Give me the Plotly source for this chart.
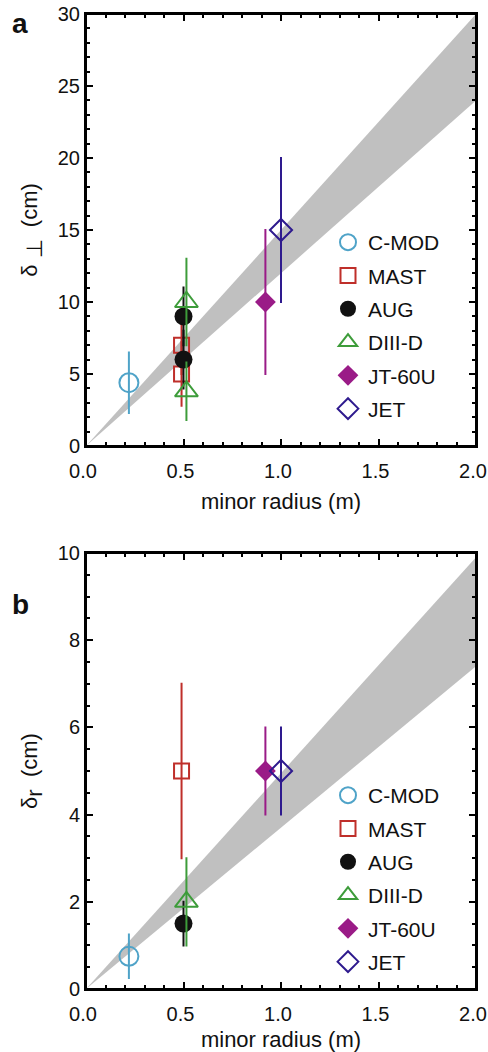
import plotly.graph_objects as go

machines = ["C-MOD", "MAST", "AUG", "DIII-D", "JT-60U", "JET"]
colors = ["#4fa3c8", "#bf2f2a", "#111111", "#3d9c3a", "#9a1b87", "#2e1a8e"]
symbols = ["circle-open", "square-open", "circle", "triangle-up-open", "diamond", "diamond-open"]
sizes = [19, 15, 18, 20, 16, 17]

# Panel a: delta_perp (cm)
a_x = [[0.22], [0.49, 0.49], [0.50, 0.50], [0.515, 0.515], [0.92], [1.00]]
a_y = [[4.4], [7.0, 5.0], [9.0, 6.0], [10.0, 3.8], [10.0], [15.0]]
a_err = [[2.1], [2.0, 2.2], [2.0, 2.0], [3.0, 2.0], [5.0], [5.0]]

# Panel b: delta_r (cm)
b_x = [[0.22], [0.49], [0.50], [0.515], [0.92], [1.00]]
b_y = [[0.75], [5.0], [1.5], [2.0], [5.0], [5.0]]
b_err = [[0.5], [2.0], [0.5], [1.0], [1.0], [1.0]]

# Grey scaling bands (edges at x = 0 and x = 2)
band_x = [0.0, 2.0, 2.0, 0.0]
band_a_y = [0.0, 30.0, 24.0, 0.0]
band_b_y = [0.0, 9.9, 7.4, 0.0]

W, H = 488, 1052
ML, MR, MT, MB = 86, 12, 14, 63
PW = W - ML - MR
PH = H - MT - MB
fig = go.Figure()

fig.add_trace(go.Scatter(x=band_x, y=band_a_y, fill="toself", fillcolor="#c0c0c0",
                         line=dict(width=0), mode="lines", showlegend=False,
                         hoverinfo="skip", xaxis="x", yaxis="y"))
fig.add_trace(go.Scatter(x=band_x, y=band_b_y, fill="toself", fillcolor="#c0c0c0",
                         line=dict(width=0), mode="lines", showlegend=False,
                         hoverinfo="skip", xaxis="x2", yaxis="y2"))

for i, m in enumerate(machines):
    for (xs, ys, es, xa, ya, lg) in [(a_x, a_y, a_err, "x", "y", "legend"),
                                     (b_x, b_y, b_err, "x2", "y2", "legend2")]:
        filled = not symbols[i].endswith("open")
        fig.add_trace(go.Scatter(
            x=xs[i], y=ys[i], mode="markers", name=m, xaxis=xa, yaxis=ya,
            legend=lg, legendgroup=m + lg,
            marker=dict(symbol=symbols[i], size=sizes[i], color=colors[i],
                        line=dict(width=2 if not filled else 0, color=colors[i])),
            error_y=dict(type="data", array=es[i], visible=True, color=colors[i],
                         thickness=2, width=1),
        ))

font_family = "Liberation Sans, Arial, sans-serif"
TXT = "#111111"


def py(px_from_top):
    return (H - MB - px_from_top) / PH


def px(px_from_left):
    return (px_from_left - ML) / PW


common_x = dict(range=[0, 2.0], dtick=0.5, tickformat=".1f", ticks="inside", ticklen=7,
                tickwidth=1.5, tickcolor="black", showline=True, linewidth=2, linecolor="black",
                mirror="allticks", showgrid=False, zeroline=False, automargin=False,
                minor=dict(dtick=0.1, ticks="inside", ticklen=4, tickwidth=1.5, tickcolor="black"),
                tickfont=dict(size=20, color=TXT), ticklabelstandoff=6, ticklabelshift=-3,
                ticklabeloverflow="allow",
                title=dict(text="minor radius (m)", font=dict(size=22, color=TXT), standoff=13),
                domain=[0, 1])

common_y = dict(ticks="inside", ticklen=7, tickwidth=1.5,
                tickcolor="black", showline=True, linewidth=2, linecolor="black",
                mirror="allticks", showgrid=False, zeroline=False, automargin=False,
                ticklabeloverflow="allow",
                tickfont=dict(size=20, color=TXT))

ysub = "<sub><span style='font-size:22px'>%s</span></sub>"

frame = dict(type="rect", x0=0, x1=1, y0=0, y1=1, line=dict(color="black", width=2),
             fillcolor="rgba(0,0,0,0)", layer="above")

fig.update_layout(
    width=W, height=H, margin=dict(l=ML, r=MR, t=MT, b=MB),
    plot_bgcolor="white", paper_bgcolor="white",
    font=dict(family=font_family, color=TXT),
    xaxis=dict(common_x, anchor="y"),
    yaxis=dict(common_y, range=[0, 30], dtick=5,
               minor=dict(dtick=1, ticks="inside", ticklen=4, tickwidth=1.5, tickcolor="black"),
               title=dict(text="δ " + ysub % "⊥" + "  (cm)", font=dict(size=22, color=TXT), standoff=14),
               domain=[py(446), py(14)], anchor="x"),
    xaxis2=dict(common_x, anchor="y2"),
    yaxis2=dict(common_y, range=[0, 10], dtick=2,
                minor=dict(dtick=0.5, ticks="inside", ticklen=4, tickwidth=1.5, tickcolor="black"),
                title=dict(text="δ" + ysub % "r" + "  (cm)", font=dict(size=22, color=TXT), standoff=14),
                domain=[py(989), py(553)], anchor="x2"),
    shapes=[dict(frame, xref="x domain", yref="y domain"),
            dict(frame, xref="x2 domain", yref="y2 domain")],
    legend=dict(x=px(328), y=py(222), xanchor="left", yanchor="top",
                font=dict(size=21, color=TXT), bgcolor="rgba(0,0,0,0)",
                traceorder="grouped", tracegroupgap=3),
    legend2=dict(x=px(328), y=py(775), xanchor="left", yanchor="top",
                 font=dict(size=21, color=TXT), bgcolor="rgba(0,0,0,0)",
                 traceorder="grouped", tracegroupgap=3),
    showlegend=True,
    annotations=[
        dict(text="<b>a</b>", x=px(10), y=py(24), xref="paper", yref="paper",
             xanchor="left", yanchor="middle", showarrow=False, font=dict(size=28, color=TXT)),
        dict(text="<b>b</b>", x=px(10), y=py(604), xref="paper", yref="paper",
             xanchor="left", yanchor="middle", showarrow=False, font=dict(size=28, color=TXT)),
    ],
)

fig.write_html(
    "out.html",
    config={"displayModeBar": False},
    post_script=("document.body.style.margin='0';"
                 "document.body.style.overflow='hidden';"
                 "document.documentElement.style.overflow='hidden';"),
)
